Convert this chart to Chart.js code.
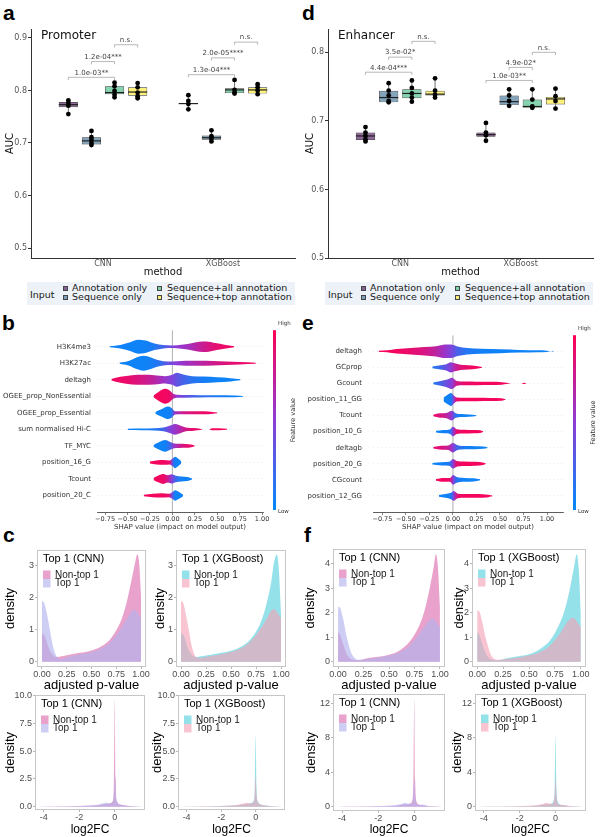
<!DOCTYPE html>
<html>
<head>
<meta charset="utf-8">
<title>Promoter / enhancer model panels</title>
<script src="https://cdn.jsdelivr.net/npm/chart.js@4.4.1/dist/chart.umd.min.js"></script>
<style>
  html, body { margin: 0; padding: 0; background: #fff; }
  body { position: relative; width: 600px; height: 837px; overflow: hidden; }
  canvas { position: absolute; }
  .tag { position: absolute; font: bold 21px "Liberation Sans", Arial, sans-serif; line-height: 21px; color: #000; }
  .legend { position: absolute; top: 282px; width: 268px; height: 23px; background: #edf2f8; font: 9.5px "DejaVu Sans", sans-serif; color: #1a1a1a; }
  .legend span { position: absolute; line-height: 10px; white-space: nowrap; }
  .legend i { position: absolute; width: 5px; height: 5px; box-sizing: border-box; border: 0.5px solid #444; }
</style>
</head>
<body>
<div class="tag" style="left:3px;top:2px">a</div>
<div class="tag" style="left:302px;top:2px">d</div>
<div class="tag" style="left:2px;top:312px">b</div>
<div class="tag" style="left:302px;top:312px">e</div>
<div class="tag" style="left:3px;top:524px">c</div>
<div class="tag" style="left:304px;top:524px">f</div>

<canvas id="aucProm" width="300" height="280" style="left:0;top:0"></canvas>
<canvas id="aucEnh" width="300" height="280" style="left:300px;top:0"></canvas>
<div class="legend" id="legProm" style="left:27px"></div>
<div class="legend" id="legEnh" style="left:325px"></div>
<canvas id="shapProm" width="300" height="220" style="left:0;top:320px"></canvas>
<canvas id="shapEnh" width="300" height="220" style="left:300px;top:320px"></canvas>
<canvas id="pCnnProm" width="150" height="153" style="left:0;top:540px"></canvas>
<canvas id="pXgbProm" width="150" height="153" style="left:150px;top:540px"></canvas>
<canvas id="fcCnnProm" width="150" height="152" style="left:0;top:685px"></canvas>
<canvas id="fcXgbProm" width="150" height="152" style="left:150px;top:685px"></canvas>
<canvas id="pCnnEnh" width="150" height="153" style="left:300px;top:540px"></canvas>
<canvas id="pXgbEnh" width="150" height="153" style="left:450px;top:540px"></canvas>
<canvas id="fcCnnEnh" width="150" height="152" style="left:300px;top:685px"></canvas>
<canvas id="fcXgbEnh" width="150" height="152" style="left:450px;top:685px"></canvas>

<script>
// ---------- a / d : AUC per model input ----------
const methods = ['CNN', 'XGBoost'];
const inputs = ['Annotation only', 'Sequence only', 'Sequence+all annotation', 'Sequence+top annotation'];

// quartiles, indexed [input][method]
const promQ1  = [[0.768, 0.774], [0.697, 0.706], [0.793, 0.795], [0.790, 0.794]];
const promMed = [[0.773, 0.775], [0.704, 0.710], [0.796, 0.801], [0.797, 0.801]];
const promQ3  = [[0.778, 0.776], [0.711, 0.714], [0.808, 0.804], [0.806, 0.806]];
const promAUC = [
  [[0.781, 0.776, 0.771, 0.755], [0.791, 0.780, 0.774, 0.764]],
  [[0.723, 0.711, 0.706, 0.700, 0.696], [0.724, 0.713, 0.708, 0.703]],
  [[0.815, 0.808, 0.799, 0.792, 0.787], [0.820, 0.801, 0.796, 0.794]],
  [[0.814, 0.806, 0.796, 0.789, 0.785], [0.812, 0.806, 0.800, 0.793]]
];
// [method, input A, input B, bracket height, label]
const promTests = [
  [0, 0, 2, 0.825, '1.0e-03**'], [0, 1, 2, 0.855, '1.2e-04***'], [0, 2, 3, 0.887, 'n.s.'],
  [1, 0, 2, 0.830, '1.3e-04***'], [1, 1, 2, 0.862, '2.0e-05****'], [1, 2, 3, 0.892, 'n.s.']
];

const enhQ1  = [[0.672, 0.677], [0.727, 0.723], [0.733, 0.719], [0.737, 0.724]];
const enhMed = [[0.678, 0.680], [0.734, 0.728], [0.740, 0.721], [0.739, 0.732]];
const enhQ3  = [[0.683, 0.683], [0.744, 0.737], [0.746, 0.731], [0.744, 0.735]];
const enhAUC = [
  [[0.691, 0.683, 0.678, 0.673, 0.670], [0.697, 0.683, 0.679, 0.671]],
  [[0.755, 0.744, 0.737, 0.729, 0.727], [0.746, 0.737, 0.729, 0.722]],
  [[0.759, 0.748, 0.740, 0.734, 0.728], [0.746, 0.731, 0.721, 0.719]],
  [[0.762, 0.744, 0.738, 0.734], [0.747, 0.736, 0.729, 0.718]]
];
const enhTests = [
  [0, 0, 2, 0.771, '4.4e-04***'], [0, 1, 2, 0.793, '3.5e-02*'], [0, 2, 3, 0.816, 'n.s.'],
  [1, 0, 2, 0.759, '1.0e-03**'], [1, 1, 2, 0.778, '4.9e-02*'], [1, 2, 3, 0.800, 'n.s.']
];

// ---------- b / e : SHAP summary (per feature: knots, half-width, feature value) ----------
const featProm = ['H3K4me3', 'H3K27ac', 'deltagh', 'OGEE_prop_NonEssential', 'OGEE_prop_Essential',
  'sum normalised Hi-C', 'TF_MYC', 'position_16_G', 'Tcount', 'position_20_C'];
const shapXProm = [
  [-0.70, -0.58, -0.48, -0.38, -0.30, -0.20, -0.10, 0.00, 0.10, 0.20, 0.30, 0.38, 0.48, 0.58, 0.69],
  [-0.59, -0.48, -0.40, -0.32, -0.24, -0.15, -0.05, 0.05, 0.15, 0.30, 0.45, 0.60, 0.75, 0.93],
  [-0.68, -0.58, -0.45, -0.32, -0.20, -0.08, 0.00, 0.05, 0.12, 0.22, 0.35, 0.50, 0.65, 0.76],
  [-0.21, -0.15, -0.08, -0.03, 0.01, 0.06, 0.15, 0.30, 0.50, 0.70, 0.79],
  [-0.19, -0.11, -0.05, -0.01, 0.03, 0.10, 0.20, 0.30, 0.40, 0.50],
  [-0.50, -0.35, -0.20, -0.10, -0.03, 0.03, 0.08, 0.15, 0.24, 0.31, 0.35, 0.41, 0.44, 0.52, 0.61],
  [-0.21, -0.15, -0.08, -0.03, 0.02, 0.08, 0.15, 0.21, 0.25],
  [-0.25, -0.18, -0.10, -0.03, 0.00, 0.03, 0.06, 0.10],
  [-0.21, -0.15, -0.10, -0.05, -0.01, 0.04, 0.10, 0.17, 0.22],
  [-0.32, -0.22, -0.12, -0.04, 0.00, 0.03, 0.07, 0.12]
];
const shapWProm = [
  [0.03, 0.10, 0.25, 0.42, 0.38, 0.20, 0.10, 0.08, 0.12, 0.20, 0.30, 0.32, 0.22, 0.12, 0.03],
  [0.03, 0.15, 0.35, 0.45, 0.35, 0.18, 0.10, 0.12, 0.15, 0.15, 0.13, 0.10, 0.07, 0.03],
  [0.05, 0.18, 0.28, 0.30, 0.28, 0.22, 0.30, 0.42, 0.32, 0.22, 0.20, 0.15, 0.10, 0.03],
  [0.05, 0.28, 0.45, 0.35, 0.15, 0.09, 0.08, 0.07, 0.06, 0.05, 0.02],
  [0.05, 0.25, 0.38, 0.30, 0.10, 0.09, 0.09, 0.09, 0.08, 0.02],
  [0.04, 0.05, 0.07, 0.12, 0.22, 0.32, 0.25, 0.12, 0.08, 0.04, 0.00, 0.00, 0.06, 0.06, 0.03],
  [0.05, 0.22, 0.35, 0.25, 0.15, 0.13, 0.12, 0.08, 0.02],
  [0.06, 0.12, 0.14, 0.12, 0.22, 0.35, 0.25, 0.05],
  [0.06, 0.22, 0.30, 0.22, 0.28, 0.20, 0.15, 0.12, 0.03],
  [0.04, 0.10, 0.13, 0.10, 0.20, 0.32, 0.22, 0.04]
];
const shapFProm = [
  [0.05, 0.05, 0.05, 0.05, 0.06, 0.10, 0.25, 0.45, 0.55, 0.62, 0.72, 0.80, 0.88, 0.92, 0.95],
  [0.05, 0.05, 0.05, 0.05, 0.07, 0.15, 0.35, 0.50, 0.58, 0.68, 0.78, 0.85, 0.90, 0.95],
  [0.95, 0.93, 0.88, 0.80, 0.70, 0.55, 0.45, 0.35, 0.25, 0.15, 0.08, 0.05, 0.05, 0.05],
  [0.95, 0.95, 0.95, 0.92, 0.70, 0.50, 0.35, 0.20, 0.10, 0.05, 0.05],
  [0.05, 0.05, 0.05, 0.10, 0.55, 0.75, 0.85, 0.90, 0.93, 0.95],
  [0.05, 0.05, 0.10, 0.25, 0.45, 0.55, 0.65, 0.80, 0.90, 0.95, 0.95, 0.95, 0.95, 0.95, 0.95],
  [0.05, 0.05, 0.05, 0.20, 0.55, 0.75, 0.88, 0.92, 0.95],
  [0.95, 0.95, 0.95, 0.90, 0.35, 0.05, 0.05, 0.05],
  [0.95, 0.95, 0.92, 0.78, 0.50, 0.20, 0.06, 0.05, 0.05],
  [0.95, 0.95, 0.95, 0.90, 0.35, 0.05, 0.05, 0.05]
];

const featEnh = ['deltagh', 'GCprop', 'Gcount', 'position_11_GG', 'Tcount', 'position_10_G',
  'deltagb', 'position_20_G', 'CGcount', 'position_12_GG'];
const shapXEnh = [
  [-0.79, -0.70, -0.60, -0.45, -0.30, -0.18, -0.08, -0.02, 0.05, 0.15, 0.30, 0.50, 0.70, 0.90, 1.00, 1.04, 1.07],
  [-0.22, -0.15, -0.08, -0.02, 0.02, 0.08, 0.16, 0.25, 0.31],
  [-0.21, -0.13, -0.06, -0.01, 0.04, 0.12, 0.25, 0.40, 0.52, 0.57, 0.62, 0.73, 0.755, 0.78],
  [-0.10, -0.06, -0.02, 0.01, 0.04, 0.12, 0.25, 0.40, 0.52, 0.56],
  [-0.21, -0.14, -0.07, -0.01, 0.03, 0.09, 0.17, 0.25],
  [-0.18, -0.10, -0.03, 0.00, 0.04, 0.12, 0.22, 0.29, 0.32],
  [-0.21, -0.12, -0.05, 0.00, 0.05, 0.14, 0.24, 0.32, 0.37],
  [-0.22, -0.12, -0.04, 0.00, 0.04, 0.12, 0.24, 0.32, 0.35],
  [-0.18, -0.10, -0.03, 0.00, 0.04, 0.12, 0.22, 0.29],
  [-0.15, -0.08, -0.02, 0.01, 0.05, 0.12, 0.22, 0.32, 0.38, 0.40, 0.42]
];
const shapWEnh = [
  [0.04, 0.06, 0.14, 0.20, 0.26, 0.32, 0.42, 0.42, 0.30, 0.20, 0.16, 0.12, 0.08, 0.06, 0.04, 0.00, 0.03],
  [0.06, 0.12, 0.18, 0.32, 0.25, 0.16, 0.13, 0.09, 0.02],
  [0.05, 0.15, 0.25, 0.35, 0.15, 0.12, 0.11, 0.10, 0.08, 0.04, 0.00, 0.00, 0.04, 0.00],
  [0.12, 0.28, 0.40, 0.25, 0.12, 0.11, 0.11, 0.10, 0.08, 0.02],
  [0.05, 0.14, 0.16, 0.30, 0.14, 0.09, 0.07, 0.02],
  [0.05, 0.10, 0.15, 0.30, 0.15, 0.12, 0.10, 0.08, 0.02],
  [0.05, 0.12, 0.14, 0.30, 0.15, 0.10, 0.09, 0.07, 0.02],
  [0.05, 0.10, 0.12, 0.30, 0.18, 0.14, 0.12, 0.08, 0.02],
  [0.05, 0.12, 0.12, 0.30, 0.18, 0.12, 0.10, 0.03],
  [0.05, 0.12, 0.20, 0.30, 0.14, 0.12, 0.12, 0.11, 0.08, 0.04, 0.03]
];
const shapFEnh = [
  [0.95, 0.95, 0.95, 0.90, 0.82, 0.70, 0.55, 0.45, 0.25, 0.12, 0.06, 0.05, 0.05, 0.05, 0.05, 0.05, 0.05],
  [0.12, 0.20, 0.35, 0.50, 0.70, 0.85, 0.92, 0.95, 0.95],
  [0.10, 0.25, 0.40, 0.50, 0.80, 0.90, 0.95, 0.95, 0.95, 0.95, 0.95, 0.95, 0.95, 0.95],
  [0.05, 0.05, 0.08, 0.50, 0.90, 0.95, 0.95, 0.95, 0.95, 0.95],
  [0.90, 0.85, 0.72, 0.50, 0.15, 0.05, 0.05, 0.05],
  [0.05, 0.05, 0.10, 0.50, 0.90, 0.95, 0.95, 0.95, 0.95],
  [0.90, 0.85, 0.75, 0.50, 0.20, 0.08, 0.05, 0.05, 0.05],
  [0.05, 0.05, 0.10, 0.50, 0.90, 0.95, 0.95, 0.95, 0.95],
  [0.95, 0.95, 0.90, 0.50, 0.12, 0.05, 0.05, 0.05],
  [0.05, 0.05, 0.10, 0.50, 0.90, 0.95, 0.95, 0.95, 0.95, 0.95, 0.95]
];
const shapTicks = [-0.75, -0.5, -0.25, 0, 0.25, 0.5, 0.75, 1.0];

// ---------- c / f : densities, [x, density] ----------
const groups = ['Non-top 1', 'Top 1'];
const pvalTicks = [0, 0.25, 0.5, 0.75, 1];
const fcTicks = [-4, -2, 0];

const pCnnPromNon = [[0, 0.9], [0.03, 0.8], [0.06, 0.5], [0.1, 0.25], [0.15, 0.15], [0.25, 0.2], [0.35, 0.26], [0.5, 0.35], [0.6, 0.48], [0.7, 0.75], [0.8, 1.3], [0.85, 1.8], [0.9, 2.5], [0.94, 3.1], [0.96, 3.35], [0.98, 3.1], [1.0, 2.0]];
const pCnnPromTop = [[0, 1.9], [0.02, 1.85], [0.05, 1.5], [0.08, 1.0], [0.1, 0.65], [0.13, 0.28], [0.17, 0.1], [0.2, 0.08], [0.25, 0.14], [0.35, 0.21], [0.5, 0.3], [0.6, 0.42], [0.7, 0.65], [0.8, 1.05], [0.85, 1.3], [0.9, 1.55], [0.93, 1.63], [0.96, 1.55], [1.0, 1.35]];
const pXgbPromNon = [[0, 0.9], [0.03, 0.8], [0.06, 0.5], [0.1, 0.25], [0.15, 0.15], [0.25, 0.19], [0.35, 0.25], [0.5, 0.34], [0.6, 0.47], [0.7, 0.72], [0.8, 1.25], [0.85, 1.75], [0.9, 2.45], [0.93, 3.1], [0.96, 3.35], [0.98, 2.8], [1.0, 1.5]];
const pXgbPromTop = [[0, 1.9], [0.02, 1.85], [0.05, 1.45], [0.08, 0.95], [0.1, 0.6], [0.13, 0.25], [0.17, 0.12], [0.2, 0.12], [0.25, 0.15], [0.35, 0.2], [0.5, 0.3], [0.6, 0.42], [0.7, 0.65], [0.8, 1.05], [0.85, 1.3], [0.9, 1.58], [0.93, 1.65], [0.96, 1.55], [1.0, 1.35]];
const fcCnnPromNon = [[-4.2, 0], [-3, 0.02], [-2, 0.05], [-1, 0.12], [-0.6, 0.22], [-0.3, 0.3], [-0.12, 0.5], [-0.05, 2.5], [0, 9.7], [0.05, 2.5], [0.12, 0.5], [0.3, 0.2], [0.6, 0.1], [1.0, 0.04], [1.5, 0]];
const fcCnnPromTop = [[-4.2, 0.01], [-3, 0.03], [-2, 0.07], [-1, 0.18], [-0.7, 0.28], [-0.5, 0.38], [-0.35, 0.3], [-0.15, 0.35], [-0.05, 1.2], [0, 3.0], [0.05, 1.2], [0.15, 0.35], [0.4, 0.15], [0.7, 0.08], [1.0, 0.04], [1.5, 0.01]];
const fcXgbPromNon = [[-4.2, 0], [-3, 0.02], [-2, 0.05], [-1, 0.12], [-0.6, 0.22], [-0.3, 0.3], [-0.12, 0.5], [-0.05, 1.8], [0, 6.4], [0.05, 1.8], [0.12, 0.5], [0.3, 0.2], [0.6, 0.1], [1.0, 0.04], [1.5, 0]];
const fcXgbPromTop = [[-4.2, 0.01], [-3, 0.03], [-2, 0.07], [-1, 0.18], [-0.7, 0.28], [-0.5, 0.36], [-0.35, 0.3], [-0.15, 0.35], [-0.05, 1.1], [0, 2.8], [0.05, 1.1], [0.15, 0.35], [0.4, 0.15], [0.7, 0.08], [1.0, 0.04], [1.5, 0.01]];

const pCnnEnhNon = [[0, 1.2], [0.02, 1.1], [0.05, 0.7], [0.08, 0.35], [0.12, 0.12], [0.2, 0.06], [0.3, 0.15], [0.4, 0.2], [0.5, 0.28], [0.6, 0.45], [0.7, 0.8], [0.8, 1.5], [0.85, 2.1], [0.9, 3.0], [0.94, 3.9], [0.96, 4.4], [0.98, 3.9], [1.0, 2.2]];
const pCnnEnhTop = [[0, 2.25], [0.02, 2.2], [0.05, 1.75], [0.08, 1.1], [0.1, 0.75], [0.13, 0.35], [0.17, 0.12], [0.2, 0.08], [0.3, 0.12], [0.4, 0.17], [0.5, 0.25], [0.6, 0.38], [0.7, 0.65], [0.8, 1.15], [0.85, 1.45], [0.9, 1.7], [0.93, 1.75], [0.96, 1.65], [1.0, 1.4]];
const pXgbEnhNon = [[0, 1.2], [0.02, 1.1], [0.05, 0.7], [0.08, 0.35], [0.12, 0.12], [0.2, 0.06], [0.3, 0.15], [0.4, 0.22], [0.5, 0.3], [0.6, 0.5], [0.7, 0.85], [0.8, 1.6], [0.85, 2.2], [0.9, 3.1], [0.94, 4.0], [0.96, 4.4], [0.98, 3.8], [1.0, 2.0]];
const pXgbEnhTop = [[0, 2.1], [0.02, 2.05], [0.05, 1.6], [0.08, 1.0], [0.1, 0.7], [0.13, 0.3], [0.17, 0.1], [0.2, 0.08], [0.3, 0.12], [0.4, 0.17], [0.5, 0.25], [0.6, 0.38], [0.7, 0.65], [0.8, 1.15], [0.85, 1.5], [0.9, 1.75], [0.93, 1.8], [0.96, 1.65], [1.0, 1.4]];
const fcCnnEnhNon = [[-4.2, 0], [-3, 0.02], [-2, 0.05], [-1, 0.12], [-0.6, 0.25], [-0.3, 0.32], [-0.12, 0.6], [-0.05, 3.0], [0, 12.5], [0.05, 3.0], [0.12, 0.6], [0.3, 0.22], [0.6, 0.12], [1.0, 0.04], [1.5, 0]];
const fcCnnEnhTop = [[-4.2, 0.01], [-3, 0.03], [-2, 0.08], [-1, 0.2], [-0.7, 0.3], [-0.5, 0.45], [-0.35, 0.35], [-0.15, 0.35], [-0.05, 1.3], [0, 3.2], [0.05, 1.3], [0.15, 0.3], [0.3, 0.2], [0.5, 0.25], [0.7, 0.12], [1.0, 0.05], [1.5, 0.01]];
const fcXgbEnhNon = [[-4.2, 0], [-3, 0.02], [-2, 0.05], [-1, 0.12], [-0.6, 0.25], [-0.3, 0.32], [-0.12, 0.6], [-0.05, 2.2], [0, 8.2], [0.05, 2.2], [0.12, 0.6], [0.3, 0.22], [0.6, 0.12], [1.0, 0.04], [1.5, 0]];
const fcXgbEnhTop = [[-4.2, 0.01], [-3, 0.03], [-2, 0.08], [-1, 0.2], [-0.7, 0.3], [-0.5, 0.45], [-0.35, 0.35], [-0.15, 0.35], [-0.05, 1.3], [0, 3.3], [0.05, 1.3], [0.15, 0.3], [0.3, 0.2], [0.5, 0.2], [0.7, 0.1], [1.0, 0.05], [1.5, 0.01]];

// ---------- colours ----------
const inputFill = ['rgba(68,1,84,0.6)', 'rgba(49,104,142,0.6)', 'rgba(53,183,121,0.6)', 'rgba(253,231,37,0.6)'];
const cnnFill = ['rgba(215,95,165,0.58)', 'rgba(180,180,240,0.65)'];
const xgbFill = ['rgba(60,200,215,0.55)', 'rgba(245,160,180,0.62)'];

Chart.defaults.font.family = '"DejaVu Sans"';

function shapColor(t) {
  const lo = [0, 138, 250], mid = [140, 60, 215], hi = [255, 0, 82];
  const [a, b, u] = t < 0.5 ? [lo, mid, t / 0.5] : [mid, hi, (t - 0.5) / 0.5];
  return 'rgb(' + a.map((v, i) => Math.round(v + (b[i] - v) * u)).join(',') + ')';
}

// ---------- boxplots ----------
function makeBoxChart(id, title, yMin, yMax, yTicks, q1, med, q3, auc, tests, yw, padR) {
  const datasets = inputs.map((name, i) => ({
    label: name,
    data: methods.map((m, j) => ({x: j + 1, y: [q1[i][j], q3[i][j]]})),
    backgroundColor: inputFill[i],
    borderColor: '#333',
    borderWidth: 0.7,
    borderSkipped: false,
    categoryPercentage: 0.77,
    barPercentage: 0.83
  }));

  const extras = {
    id: 'boxExtras',
    afterDatasetsDraw(chart) {
      const c = chart.ctx, y = chart.scales.y, area = chart.chartArea;
      c.save();
      inputs.forEach((name, i) => {
        chart.getDatasetMeta(i).data.forEach((bar, j) => {
          const pts = auc[i][j];
          const hw = bar.width / 2;
          c.strokeStyle = '#333';
          c.lineWidth = 0.7;
          c.beginPath();
          c.moveTo(bar.x, y.getPixelForValue(Math.max(...pts)));
          c.lineTo(bar.x, y.getPixelForValue(q3[i][j]));
          c.moveTo(bar.x, y.getPixelForValue(Math.min(...pts)));
          c.lineTo(bar.x, y.getPixelForValue(q1[i][j]));
          c.stroke();
          c.strokeStyle = '#222';
          c.lineWidth = 1.2;
          const my = y.getPixelForValue(med[i][j]);
          c.beginPath();
          c.moveTo(bar.x - hw, my);
          c.lineTo(bar.x + hw, my);
          c.stroke();
          c.fillStyle = '#000';
          pts.forEach(v => {
            c.beginPath();
            c.arc(bar.x, y.getPixelForValue(v), 2.4, 0, Math.PI * 2);
            c.fill();
          });
        });
      });
      // p-value brackets
      c.font = '7px "DejaVu Sans"';
      c.textAlign = 'center';
      c.textBaseline = 'bottom';
      tests.forEach(([j, a, b, yv, label]) => {
        const x1 = chart.getDatasetMeta(a).data[j].x;
        const x2 = chart.getDatasetMeta(b).data[j].x;
        const py = y.getPixelForValue(yv);
        c.strokeStyle = '#9a9a9a';
        c.lineWidth = 0.7;
        c.beginPath();
        c.moveTo(x1, py + 2.7);
        c.lineTo(x1, py);
        c.lineTo(x2, py);
        c.lineTo(x2, py + 2.7);
        c.stroke();
        c.fillStyle = '#444';
        c.fillText(label, (x1 + x2) / 2, py - 1);
      });
      c.textAlign = 'left';
      c.textBaseline = 'middle';
      c.font = '12px "DejaVu Sans"';
      c.fillStyle = '#111';
      c.fillText(title, area.left + 10, area.top + 7);
      c.restore();
    }
  };

  new Chart(document.getElementById(id), {
    type: 'bar',
    data: {datasets},
    options: {
      responsive: false,
      animation: false,
      layout: {padding: {top: 29, right: padR, left: 0, bottom: 0}},
      plugins: {legend: {display: false}, tooltip: {enabled: false}},
      scales: {
        x: {
          type: 'linear', min: 0.4, max: 2.6, offset: false,
          afterBuildTicks: s => { s.ticks = methods.map((m, j) => ({value: j + 1})); },
          ticks: {callback: v => methods[v - 1], font: {size: 8}, color: '#555', padding: -1, maxRotation: 0},
          grid: {drawOnChartArea: false, offset: false, tickLength: 2, color: '#333'},
          border: {display: true, color: '#333', width: 1},
          title: {display: true, text: 'method', font: {size: 10, lineHeight: 1}, color: '#111', padding: {top: 0, bottom: 3}},
          afterFit: s => { s.height = 22; }
        },
        y: {
          min: yMin, max: yMax,
          afterBuildTicks: s => { s.ticks = yTicks.map(v => ({value: v})); },
          ticks: {callback: v => v.toFixed(1), font: {size: 8}, color: '#555', padding: 1},
          grid: {drawOnChartArea: false, tickLength: 3, color: '#333'},
          border: {display: true, color: '#333', width: 1},
          title: {display: true, text: 'AUC', font: {size: 10, lineHeight: 1}, color: '#111', padding: {top: 5}},
          afterFit: s => { s.width = yw; }
        }
      }
    },
    plugins: [extras]
  });
}

function makeLegend(id) {
  const lg = document.getElementById(id);
  let html = '<span style="left:3px;top:8px">Input</span>';
  inputs.forEach((name, i) => {
    const col = Math.floor(i / 2), row = i % 2;
    const sx = col === 0 ? 36 : 130, tx = col === 0 ? 45 : 140;
    const cy = row === 0 ? 6 : 15;
    html += '<i style="left:' + sx + 'px;top:' + (cy - 2.5) + 'px;background:' + inputFill[i] + '"></i>';
    html += '<span style="left:' + tx + 'px;top:' + (cy - 5) + 'px">' + name + '</span>';
  });
  lg.innerHTML = html;
}

// ---------- SHAP beeswarm outlines ----------
function shapGradient(chart, xs, fv) {
  const area = chart.chartArea;
  if (!area) return 'rgba(0,0,0,0)';
  const sx = chart.scales.x;
  const x0 = sx.getPixelForValue(xs[0]), x1 = sx.getPixelForValue(xs[xs.length - 1]);
  const g = chart.ctx.createLinearGradient(x0, 0, x1, 0);
  xs.forEach((x, k) => g.addColorStop((sx.getPixelForValue(x) - x0) / (x1 - x0), shapColor(fv[k])));
  return g;
}

const colorbar = {
  id: 'colorbar',
  afterDraw(chart) {
    const c = chart.ctx, a = chart.chartArea;
    const x = a.right + 10, top = a.top, bot = a.bottom - 2;
    const g = c.createLinearGradient(0, bot, 0, top);
    [0, 0.25, 0.5, 0.75, 1].forEach(t => g.addColorStop(t, shapColor(t)));
    c.save();
    c.fillStyle = g;
    c.fillRect(x, top, 3, bot - top);
    c.fillStyle = '#333';
    c.font = '5.5px "DejaVu Sans"';
    c.textBaseline = 'middle';
    c.fillText('High', x + 5, top - 7);
    c.fillText('Low', x + 5, bot + 1.5);
    c.translate(x + 20, (top + bot) / 2);
    c.rotate(-Math.PI / 2);
    c.font = '6.5px "DejaVu Sans"';
    c.textAlign = 'center';
    c.fillText('Feature value', 0, 0);
    c.restore();
  }
};

function makeShap(id, feats, xs, ws, fvs, xMin, xMax, yw, labelPad) {
  const n = feats.length;
  const datasets = [{data: [{x: 0, y: -1}, {x: 0, y: n}], borderColor: '#999', borderWidth: 0.8, pointRadius: 0, order: 5}];
  feats.forEach((f, r) => {
    const pos = n - 1 - r;
    const common = {pointRadius: 0, borderWidth: 0, borderColor: 'rgba(0,0,0,0)', cubicInterpolationMode: 'monotone', order: 0};
    datasets.push({...common, data: xs[r].map((x, k) => ({x, y: pos + ws[r][k]})), fill: false});
    datasets.push({...common, data: xs[r].map((x, k) => ({x, y: pos - ws[r][k]})), fill: '-1',
      backgroundColor: ctx => shapGradient(ctx.chart, xs[r], fvs[r])});
  });

  new Chart(document.getElementById(id), {
    type: 'line',
    data: {datasets},
    options: {
      responsive: false,
      animation: false,
      layout: {padding: {top: 9.5, right: 37, left: 0, bottom: 0}},
      plugins: {legend: {display: false}, tooltip: {enabled: false}},
      scales: {
        x: {
          type: 'linear', min: xMin, max: xMax,
          afterBuildTicks: s => { s.ticks = shapTicks.map(v => ({value: v})); },
          ticks: {callback: v => (v < 0 ? '\u2212' : '') + Math.abs(v).toFixed(2), font: {size: 6.5}, color: '#333', padding: 0, maxRotation: 0, autoSkip: false},
          grid: {drawOnChartArea: false, tickLength: 3, color: '#333', lineWidth: 0.6},
          border: {display: true, color: '#333', width: 0.8},
          title: {display: true, text: 'SHAP value (impact on model output)', font: {size: 7, lineHeight: 1}, color: '#333', padding: {top: 0, bottom: 9.5}},
          afterFit: s => { s.height = 28; }
        },
        y: {
          type: 'linear', min: -1, max: n,
          afterBuildTicks: s => { s.ticks = feats.map((f, i) => ({value: i})); },
          ticks: {callback: v => feats[n - 1 - v], font: {size: 7}, color: '#333', padding: labelPad, autoSkip: false},
          grid: {drawTicks: false, color: '#d4d4d4', lineWidth: 0.5},
          border: {display: false, dash: [1, 3]},
          afterFit: s => { s.width = yw; }
        }
      }
    },
    plugins: [colorbar]
  });
}

// ---------- density panels ----------
function makeDensity(id, title, nonPts, topPts, fills, xs, ys, box) {
  const toXY = pts => pts.map(p => ({x: p[0], y: p[1]}));
  const ds = (label, pts, color, order) => ({
    label, data: toXY(pts), backgroundColor: color, borderWidth: 0, borderColor: 'rgba(0,0,0,0)',
    pointRadius: 0, fill: 'origin', cubicInterpolationMode: 'monotone', order
  });
  const decor = {
    id: 'densityDecor',
    afterDraw(chart) {
      const c = chart.ctx, a = chart.chartArea;
      c.save();
      c.strokeStyle = '#c6c6c6';
      c.lineWidth = 1;
      c.strokeRect(a.left + 0.5, a.top + 0.5, a.right - a.left - 1, a.bottom - a.top - 1);
      c.textBaseline = 'middle';
      c.font = '11px "Liberation Sans"';
      c.fillStyle = '#000';
      c.fillText(title, a.left + 6, a.top + 9);
      c.font = '10px "Liberation Sans"';
      chart.data.datasets.forEach((d, i) => {
        const y0 = a.top + 20.5 + i * 8.5;
        c.fillStyle = d.backgroundColor;
        c.fillRect(a.left + 6, y0, 7.5, 8.5);
        c.fillStyle = '#1a1a1a';
        c.fillText(d.label, a.left + 18, y0 + 4.6);
      });
      c.restore();
    }
  };

  new Chart(document.getElementById(id), {
    type: 'line',
    data: {datasets: [ds(groups[0], nonPts, fills[0], 1), ds(groups[1], topPts, fills[1], 0)]},
    options: {
      responsive: false,
      animation: false,
      layout: {padding: {top: box.padT, right: box.padR, left: 0, bottom: 0}},
      plugins: {legend: {display: false}, tooltip: {enabled: false}},
      font: {family: '"Liberation Sans"'},
      scales: {
        x: {
          type: 'linear', min: xs.min, max: xs.max,
          afterBuildTicks: s => { s.ticks = xs.ticks.map(v => ({value: v})); },
          ticks: {callback: xs.fmt, font: {family: '"Liberation Sans"', size: 9}, color: '#4d4d4d', padding: 0, maxRotation: 0, autoSkip: false},
          grid: {drawOnChartArea: false, tickLength: 2, color: '#888', lineWidth: 0.6},
          border: {display: false},
          title: {display: true, text: xs.title, font: {family: '"Liberation Sans"', size: xs.size, lineHeight: 1}, color: '#000', padding: {top: 0, bottom: box.titleB}},
          afterFit: s => { s.height = box.xh; }
        },
        y: {
          type: 'linear', min: ys.min, max: ys.max,
          afterBuildTicks: s => { s.ticks = ys.ticks.map(v => ({value: v})); },
          ticks: {callback: ys.fmt, font: {family: '"Liberation Sans"', size: 9}, color: '#4d4d4d', padding: 1, autoSkip: false},
          grid: {drawOnChartArea: false, tickLength: 2, color: '#888', lineWidth: 0.6},
          border: {display: false},
          title: {display: true, text: 'density', font: {family: '"Liberation Sans"', size: 13, lineHeight: 1}, color: '#000', padding: {top: box.tx - 6.5}},
          afterFit: s => { s.width = box.yw; }
        }
      }
    },
    plugins: [decor]
  });
}

// ---------- build ----------
makeBoxChart('aucProm', 'Promoter', 0.481, 0.917, [0.5, 0.6, 0.7, 0.8, 0.9],
  promQ1, promMed, promQ3, promAUC, promTests, 31, 5);
makeBoxChart('aucEnh', 'Enhancer', 0.5, 0.834, [0.5, 0.6, 0.7, 0.8],
  enhQ1, enhMed, enhQ3, enhAUC, enhTests, 28, 7);
makeLegend('legProm');
makeLegend('legEnh');

makeShap('shapProm', featProm, shapXProm, shapWProm, shapFProm, -0.84, 1.01, 97, 6);
makeShap('shapEnh', featEnh, shapXEnh, shapWEnh, shapFEnh, -0.85, 1.17, 73, 11);

const pvalAxis = {min: -0.05, max: 1.05, ticks: pvalTicks, fmt: v => v.toFixed(2), title: 'adjusted p-value', size: 13};
const fcAxis = {min: -4.5, max: 1.7, ticks: fcTicks, fmt: v => String(v), title: 'log2FC', size: 12};
const yP = {min: -0.166, max: 3.49, ticks: [0, 1, 2, 3], fmt: v => String(v)};
const yPE = {min: -0.22, max: 4.61, ticks: [0, 1, 2, 3, 4], fmt: v => String(v)};
const yF = {min: -0.3, max: 10.06, ticks: [0, 2.5, 5, 7.5, 10], fmt: v => v.toFixed(1)};
const yFE = {min: -0.5, max: 13.08, ticks: [0, 4, 8, 12], fmt: v => String(v)};

makeDensity('pCnnProm', 'Top 1 (CNN)', pCnnPromNon, pCnnPromTop, cnnFill, pvalAxis, yP,
  {yw: 37, padT: 10, padR: 3, xh: 26, titleB: 1.5, tx: 10});
makeDensity('pXgbProm', 'Top 1 (XGBoost)', pXgbPromNon, pXgbPromTop, xgbFill, pvalAxis, yP,
  {yw: 26, padT: 10, padR: 14, xh: 26, titleB: 1.5, tx: 10});
makeDensity('fcCnnProm', 'Top 1 (CNN)', fcCnnPromNon, fcCnnPromTop, cnnFill, fcAxis, yF,
  {yw: 35, padT: 10, padR: 5, xh: 27, titleB: 1, tx: 10});
makeDensity('fcXgbProm', 'Top 1 (XGBoost)', fcXgbPromNon, fcXgbPromTop, xgbFill, fcAxis, yF,
  {yw: 28, padT: 10, padR: 15, xh: 27, titleB: 1, tx: 7});
makeDensity('pCnnEnh', 'Top 1 (CNN)', pCnnEnhNon, pCnnEnhTop, cnnFill, pvalAxis, yPE,
  {yw: 33, padT: 9, padR: 5, xh: 26, titleB: 1.5, tx: 10});
makeDensity('pXgbEnh', 'Top 1 (XGBoost)', pXgbEnhNon, pXgbEnhTop, xgbFill, pvalAxis, yPE,
  {yw: 22, padT: 9, padR: 14, xh: 26, titleB: 1.5, tx: 9});
makeDensity('fcCnnEnh', 'Top 1 (CNN)', fcCnnEnhNon, fcCnnEnhTop, cnnFill, fcAxis, yFE,
  {yw: 33, padT: 9, padR: 5, xh: 26, titleB: 1, tx: 11});
makeDensity('fcXgbEnh', 'Top 1 (XGBoost)', fcXgbEnhNon, fcXgbEnhTop, xgbFill, fcAxis, yFE,
  {yw: 25, padT: 9, padR: 14, xh: 26, titleB: 1, tx: 7.5});
</script>
</body>
</html>
